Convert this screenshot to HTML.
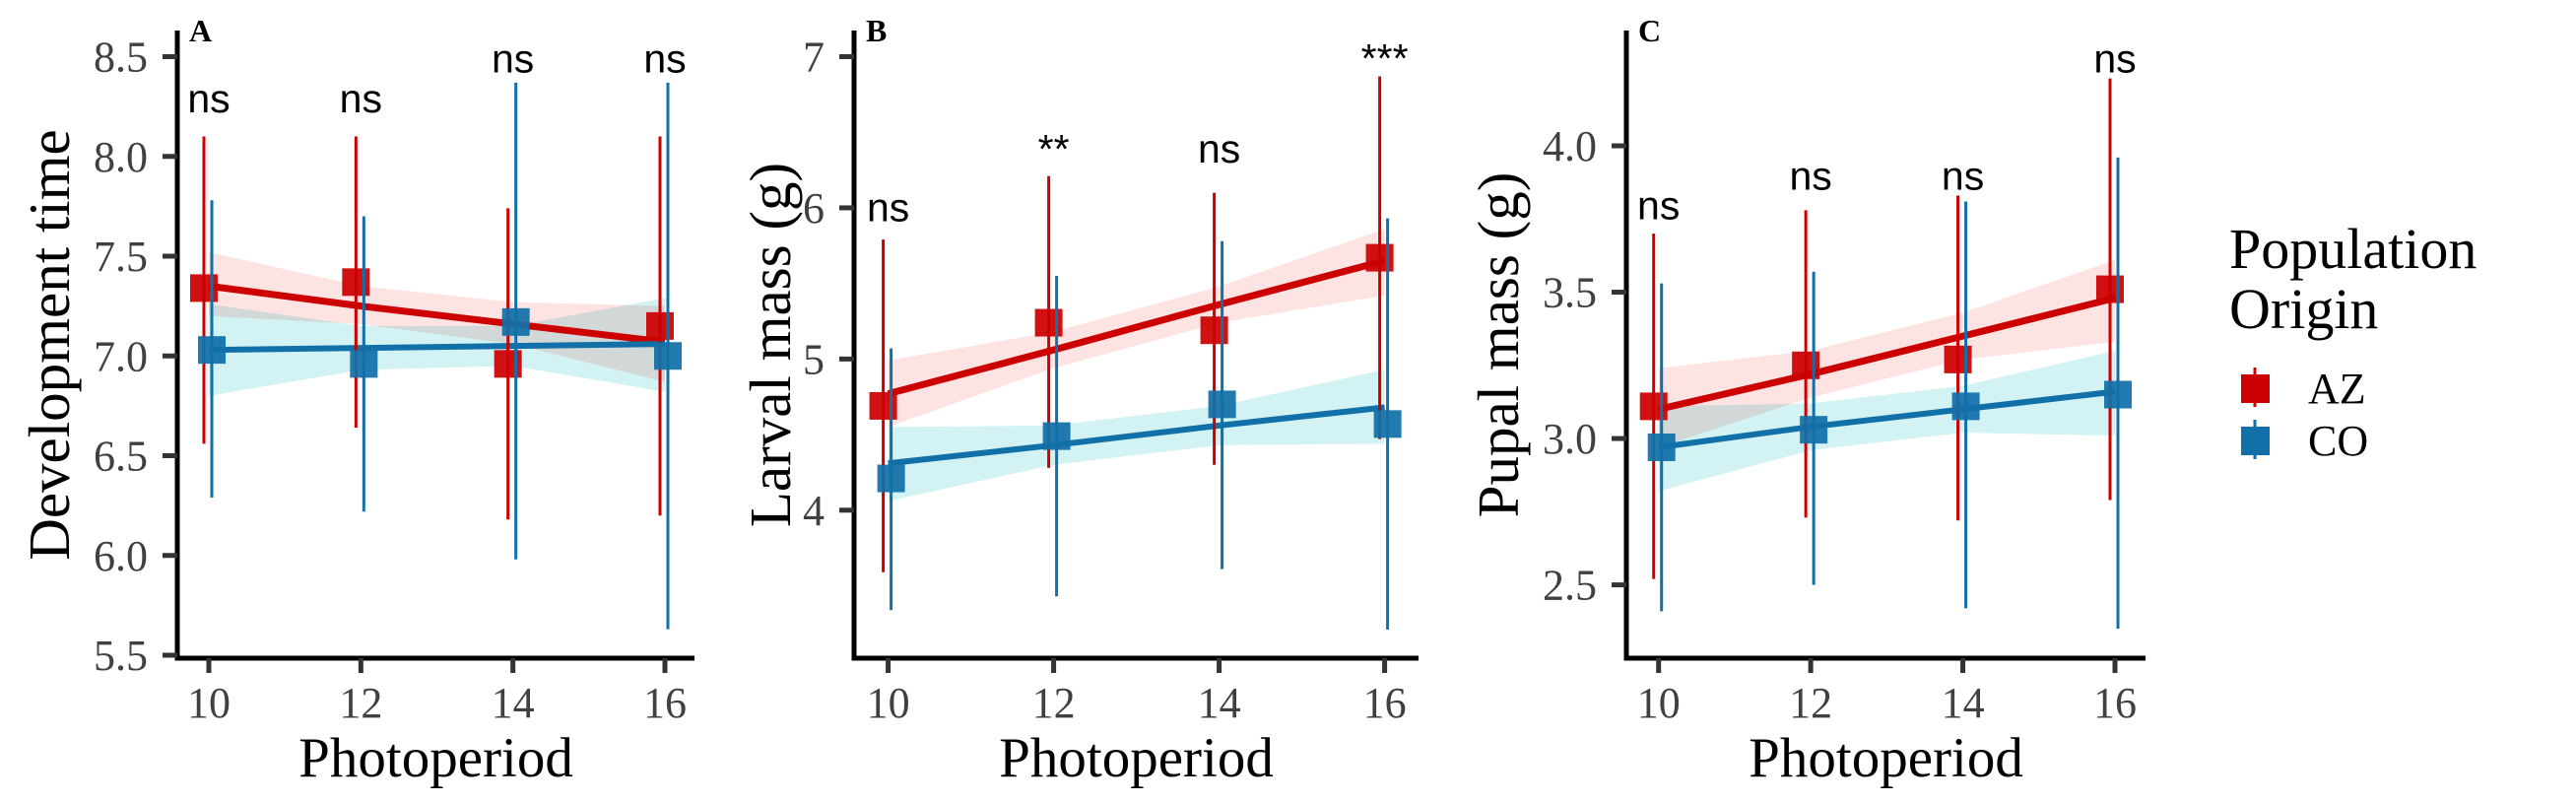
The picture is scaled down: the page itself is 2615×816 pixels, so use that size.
<!DOCTYPE html>
<html><head><meta charset="utf-8"><style>
html,body{margin:0;padding:0;background:#fff;}
svg{display:block;}
.tick{font-family:"Liberation Serif",serif;font-size:44px;fill:#404040;}
.ttl{font-family:"Liberation Serif",serif;font-size:57px;fill:#000;}
.ytl{font-family:"Liberation Serif",serif;font-size:59px;fill:#000;}
.sig{font-family:"Liberation Sans",sans-serif;font-size:41px;fill:#000;text-anchor:middle;}
.tag{font-family:"Liberation Serif",serif;font-size:32px;font-weight:bold;fill:#000;}
</style></head><body>
<svg id="chart" width="2615" height="816" viewBox="0 0 2615 816" xmlns="http://www.w3.org/2000/svg">
<g>
<text class="ttl" x="2263" y="272" style="font-size:58px">Population</text>
<text class="ttl" x="2263" y="333" style="font-size:58px">Origin</text>
<line x1="2289" y1="373" x2="2289" y2="413" stroke="#cc0000" stroke-width="3"/>
<rect x="2275" y="380" width="29" height="29" fill="#cc0000"/>
<text class="ttl" x="2343" y="409" style="font-size:44px">AZ</text>
<line x1="2289" y1="426" x2="2289" y2="466" stroke="#1170a8" stroke-width="3"/>
<rect x="2275" y="433" width="29" height="29" fill="#1170a8"/>
<text class="ttl" x="2343" y="462" style="font-size:44px">CO</text>
</g>
</svg>
<script>
// ---- data ----
const categories = [10, 12, 14, 16];
// Panel A: development time
const aAzMean = [7.34, 7.37, 6.96, 7.15];
const aAzLo = [6.56, 6.64, 6.18, 6.20];
const aAzHi = [8.10, 8.10, 7.74, 8.10];
const aCoMean = [7.03, 6.96, 7.17, 7.00];
const aCoLo = [6.29, 6.22, 5.98, 5.63];
const aCoHi = [7.78, 7.70, 8.37, 8.37];
const aAzFit = [7.35, 7.25, 7.16, 7.07];
const aAzBandLo = [7.20, 7.16, 7.06, 6.87];
const aAzBandHi = [7.52, 7.35, 7.27, 7.25];
const aCoFit = [7.03, 7.04, 7.05, 7.06];
const aCoBandLo = [6.80, 6.93, 6.95, 6.82];
const aCoBandHi = [7.26, 7.15, 7.15, 7.29];
const aSig = ["ns", "ns", "ns", "ns"];
const aSigY = [8.22, 8.22, 8.42, 8.42];
const aTicks = [5.5, 6.0, 6.5, 7.0, 7.5, 8.0, 8.5];
const aTickLabels = ["5.5", "6.0", "6.5", "7.0", "7.5", "8.0", "8.5"];
// Panel B: larval mass
const bAzMean = [4.69, 5.24, 5.19, 5.67];
const bAzLo = [3.59, 4.28, 4.30, 4.47];
const bAzHi = [5.79, 6.21, 6.10, 6.87];
const bCoMean = [4.21, 4.49, 4.70, 4.57];
const bCoLo = [3.34, 3.43, 3.61, 3.21];
const bCoHi = [5.07, 5.55, 5.78, 5.93];
const bAzFit = [4.77, 5.06, 5.36, 5.65];
const bAzBandLo = [4.55, 4.94, 5.24, 5.42];
const bAzBandHi = [4.99, 5.18, 5.48, 5.86];
const bCoFit = [4.31, 4.43, 4.56, 4.68];
const bCoBandLo = [4.06, 4.30, 4.43, 4.44];
const bCoBandHi = [4.55, 4.56, 4.69, 4.93];
const bSig = ["ns", "**", "ns", "***"];
const bSigY = [5.91, 6.30, 6.30, 6.90];
const bTicks = [4, 5, 6, 7];
const bTickLabels = ["4", "5", "6", "7"];
// Panel C: pupal mass
const cAzMean = [3.11, 3.25, 3.27, 3.51];
const cAzLo = [2.52, 2.73, 2.72, 2.79];
const cAzHi = [3.70, 3.78, 3.83, 4.23];
const cCoMean = [2.97, 3.03, 3.11, 3.15];
const cCoLo = [2.41, 2.50, 2.42, 2.35];
const cCoHi = [3.53, 3.57, 3.81, 3.96];
const cAzFit = [3.10, 3.22, 3.35, 3.48];
const cAzBandLo = [2.97, 3.14, 3.27, 3.33];
const cAzBandHi = [3.24, 3.30, 3.43, 3.61];
const cCoFit = [2.97, 3.04, 3.10, 3.16];
const cCoBandLo = [2.82, 2.96, 3.02, 3.01];
const cCoBandHi = [3.11, 3.12, 3.18, 3.30];
const cSig = ["ns", "ns", "ns", "ns"];
const cSigY = [3.75, 3.85, 3.85, 4.25];
const cTicks = [2.5, 3.0, 3.5, 4.0];
const cTickLabels = ["2.5", "3.0", "3.5", "4.0"];

const NS = "http://www.w3.org/2000/svg";
const svg = document.getElementById('chart');
const RED = "#cc0000", BLUE = "#1170a8";
function mk(tag, attrs, parent) {
  const e = document.createElementNS(NS, tag);
  for (const k in attrs) e.setAttribute(k, attrs[k]);
  parent.appendChild(e);
  return e;
}
function panel(cfg) {
  const g = mk('g', {}, svg);
  
  
  const xs = v => cfg.x10 + (v - 10) * (cfg.x16 - cfg.x10) / 6;
  const ys = v => cfg.yHiPx + (cfg.yHiV - v) * (cfg.yLoPx - cfg.yHiPx) / (cfg.yHiV - cfg.yLoV);
  const series = [
    {name: 'az', col: RED, band: '#fde4e2', m: cfg.azM, lo: cfg.azLo, hi: cfg.azHi, fit: cfg.azFit, bl: cfg.azBL, bh: cfg.azBH, dx: -5, lw: 7},
    {name: 'co', col: BLUE, band: '#d3f2f3', m: cfg.coM, lo: cfg.coLo, hi: cfg.coHi, fit: cfg.coFit, bl: cfg.coBL, bh: cfg.coBH, dx: 3, lw: 6}
  ];
  series.forEach(s => {
    let pts = categories.map((c, i) => xs(c) + ',' + ys(s.bh[i]));
    pts = pts.concat(categories.map((c, i) => xs(c) + ',' + ys(s.bl[i])).reverse());
    const p = mk('polygon', {points: pts.join(' '), fill: s.band, style: 'mix-blend-mode:multiply'}, g);
    
    
  });
  series.forEach(s => {
    const l = mk('polyline', {points: categories.map((c, i) => xs(c) + ',' + ys(s.fit[i])).join(' '), fill: 'none', stroke: s.col, 'stroke-width': s.lw}, g);
    
    
  });
  series.forEach(s => {
    categories.forEach((c, i) => {
      const x = xs(c) + s.dx;
      const b = mk('line', {x1: x, x2: x, y1: ys(s.lo[i]), y2: ys(s.hi[i]), stroke: s.col, 'stroke-width': 3}, g);
      
      
      const r = mk('rect', {x: x - 14, y: ys(s.m[i]) - 14, width: 28, height: 28, fill: s.col, 'fill-opacity': 0.93}, g);
      
      
    });
  });
  categories.forEach((c, i) => {
    const t = mk('text', {x: xs(c), y: ys(cfg.sigY[i]), class: 'sig'}, g);
    t.textContent = cfg.sig[i];
    
    
  });
  const ax = mk('path', {d: `M${cfg.axL},31 V668 H${cfg.axR}`, fill: 'none', stroke: '#000', 'stroke-width': 5}, g);
  
  
  cfg.ticks.forEach((v, i) => {
    const y = ys(v);
    const tk = mk('line', {x1: cfg.axL - 15, x2: cfg.axL, y1: y, y2: y, stroke: '#333', 'stroke-width': 5}, g);
    
    
    const t = mk('text', {x: cfg.axL - 30, y: y + 15, class: 'tick', 'text-anchor': 'end'}, g);
    t.textContent = cfg.tickLabels[i];
    
    
  });
  categories.forEach(c => {
    const x = xs(c);
    const tk = mk('line', {x1: x, x2: x, y1: 668, y2: 683, stroke: '#333', 'stroke-width': 5}, g);
    
    
    const t = mk('text', {x: x, y: 728, class: 'tick', 'text-anchor': 'middle'}, g);
    t.textContent = String(c);
    
    
  });
  const xt = mk('text', {x: (cfg.axL + cfg.axR) / 2, y: 788, class: 'ttl', 'text-anchor': 'middle'}, g);
  xt.textContent = 'Photoperiod';
  
  
  const yt = mk('text', {x: 0, y: 0, class: 'ytl', 'text-anchor': 'middle', transform: `translate(${cfg.ytX},350) rotate(-90)`}, g);
  yt.textContent = cfg.yTitle;
  
  
  const tg = mk('text', {x: cfg.axL + 12, y: 42, class: 'tag'}, g);
  tg.textContent = cfg.tag;
  
  
}
panel({tag: 'A', axL: 180, axR: 705, x10: 212, x16: 675, yHiV: 8.5, yHiPx: 57.5, yLoV: 5.5, yLoPx: 665, ytX: 70, yTitle: 'Development time',
  azM: aAzMean, azLo: aAzLo, azHi: aAzHi, coM: aCoMean, coLo: aCoLo, coHi: aCoHi, azFit: aAzFit, azBL: aAzBandLo, azBH: aAzBandHi,
  coFit: aCoFit, coBL: aCoBandLo, coBH: aCoBandHi, sig: aSig, sigY: aSigY, ticks: aTicks, tickLabels: aTickLabels});
panel({tag: 'B', axL: 867, axR: 1440, x10: 901.6, x16: 1405.6, yHiV: 7, yHiPx: 57.5, yLoV: 4, yLoPx: 517.8, ytX: 802, yTitle: 'Larval mass (g)',
  azM: bAzMean, azLo: bAzLo, azHi: bAzHi, coM: bCoMean, coLo: bCoLo, coHi: bCoHi, azFit: bAzFit, azBL: bAzBandLo, azBH: bAzBandHi,
  coFit: bCoFit, coBL: bCoBandLo, coBH: bCoBandHi, sig: bSig, sigY: bSigY, ticks: bTicks, tickLabels: bTickLabels});
panel({tag: 'C', axL: 1651, axR: 2178, x10: 1683.7, x16: 2147, yHiV: 4.0, yHiPx: 148, yLoV: 2.5, yLoPx: 593.6, ytX: 1541, yTitle: 'Pupal mass (g)',
  azM: cAzMean, azLo: cAzLo, azHi: cAzHi, coM: cCoMean, coLo: cCoLo, coHi: cCoHi, azFit: cAzFit, azBL: cAzBandLo, azBH: cAzBandHi,
  coFit: cCoFit, coBL: cCoBandLo, coBH: cCoBandHi, sig: cSig, sigY: cSigY, ticks: cTicks, tickLabels: cTickLabels});
</script>
</body></html>
